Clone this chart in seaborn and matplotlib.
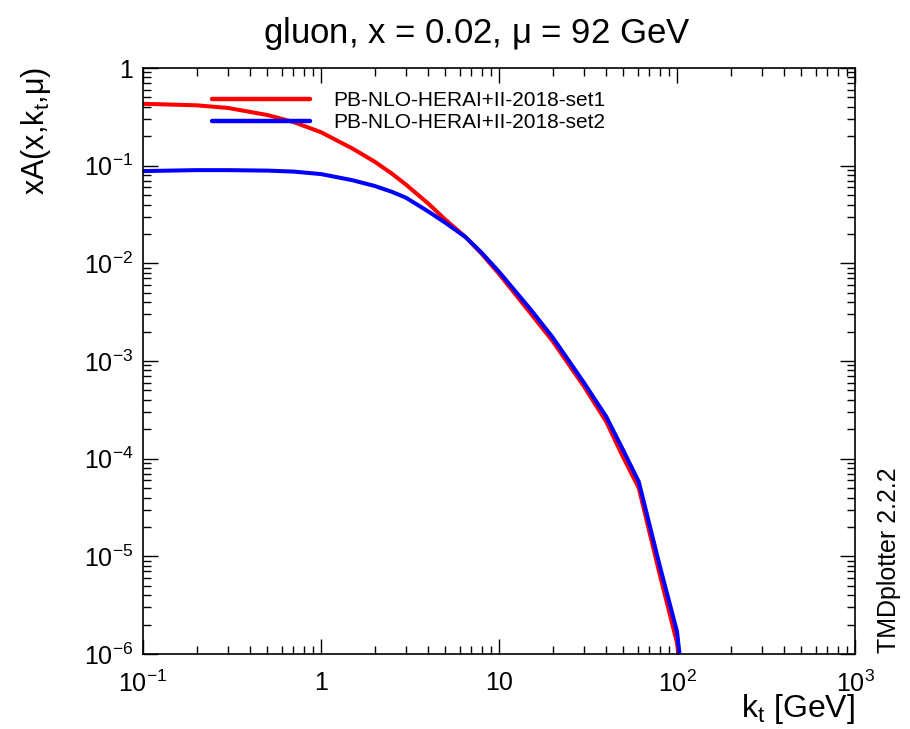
import numpy as np
import pandas as pd
import matplotlib
matplotlib.use("Agg")
import matplotlib.pyplot as plt
import seaborn as sns

kt = [0.1, 0.2, 0.3, 0.5, 0.7, 1.0, 1.5, 2.0, 2.5, 3.0, 4.0, 5.0, 6.5, 8.0,
      10, 15, 20, 30, 40, 49, 61, 80, 100, 104]
set1 = [0.43, 0.415, 0.39, 0.33, 0.28, 0.22, 0.15, 0.11, 0.083, 0.064, 0.041,
        0.028, 0.0185, 0.0125, 0.0078, 0.0031, 0.0016, 0.00055, 0.00024,
        0.00011, 5.0e-5, 6.5e-6, 1.3e-6, 7e-7]
set2 = [0.088, 0.090, 0.090, 0.089, 0.087, 0.082, 0.071, 0.062, 0.054, 0.047,
        0.034, 0.026, 0.0185, 0.0128, 0.0082, 0.0034, 0.00175, 0.0006,
        0.00027, 0.00013, 5.8e-5, 8.0e-6, 1.7e-6, 9e-7]
labels = ["PB-NLO-HERAI+II-2018-set1", "PB-NLO-HERAI+II-2018-set2"]
colors = ["#ff0000", "#0000ff"]
xtick_vals = [0.1, 1, 10, 100, 1000]
xtick_labels = [r"$10^{-1}$", "1", "10", r"$10^{2}$", r"$10^{3}$"]
ytick_vals = [1e-6, 1e-5, 1e-4, 1e-3, 1e-2, 1e-1, 1]
ytick_labels = [r"$10^{-6}$", r"$10^{-5}$", r"$10^{-4}$", r"$10^{-3}$",
                r"$10^{-2}$", r"$10^{-1}$", "1"]

df = pd.concat([
    pd.DataFrame({"kt": kt, "val": set1, "set": labels[0]}),
    pd.DataFrame({"kt": kt, "val": set2, "set": labels[1]}),
])

sns.set_theme(style="ticks")
plt.rcParams["font.family"] = ["Liberation Sans", "DejaVu Sans"]
plt.rcParams["mathtext.fontset"] = "custom"
plt.rcParams["mathtext.rm"] = "Liberation Sans"
plt.rcParams["mathtext.it"] = "Liberation Sans"
plt.rcParams["mathtext.default"] = "regular"
plt.rcParams["text.color"] = "black"
plt.rcParams["axes.labelcolor"] = "black"
plt.rcParams["xtick.color"] = "black"
plt.rcParams["ytick.color"] = "black"

fig = plt.figure(figsize=(9.1, 7.29), dpi=100)
ax = fig.add_axes([143 / 910, 1 - 654 / 729, (855 - 143) / 910, (654 - 68) / 729])

sns.lineplot(data=df, x="kt", y="val", hue="set", palette=colors,
             linewidth=2.9, ax=ax, sort=False, estimator=None)

ax.set_xscale("log")
ax.set_yscale("log")
ax.set_xlim(0.1, 1000)
ax.set_ylim(1e-6, 1)
ax.set_xticks(xtick_vals)
ax.set_xticklabels(xtick_labels)
ax.set_yticks(ytick_vals)
ax.set_yticklabels(ytick_labels)
ax.xaxis.set_minor_locator(matplotlib.ticker.LogLocator(base=10, subs=np.arange(2, 10)))
ax.yaxis.set_minor_locator(matplotlib.ticker.LogLocator(base=10, subs=np.arange(2, 10)))
ax.xaxis.set_minor_formatter(matplotlib.ticker.NullFormatter())
ax.yaxis.set_minor_formatter(matplotlib.ticker.NullFormatter())
ax.tick_params(which="both", direction="in", top=True, right=True, color="black",
               width=1.0, labelcolor="black")
ax.tick_params(which="major", length=11, labelsize=18)
ax.tick_params(axis="x", which="major", pad=12)
ax.tick_params(axis="y", which="major", pad=7)
ax.tick_params(which="minor", length=5.8)
for s in ax.spines.values():
    s.set_color("black")
    s.set_linewidth(1.2)

ax.set_xlabel("")
ax.set_ylabel("")
fig.text(855 / 910, 1 - 709 / 729, r"k$_{t}$ [GeV]", ha="right", va="center", fontsize=23)
fig.text(36 / 910, 1 - 67 / 729, r"xA(x,k$_{t}$,$\mu$)", ha="center", va="top",
         rotation=90, fontsize=22)
fig.text(477 / 910, 1 - 33 / 729, r"gluon, x = 0.02, $\mu$ = 92 GeV", ha="center",
         va="center", fontsize=25)
fig.text(889 / 910, 1 - 560 / 729, "TMDplotter 2.2.2", ha="center", va="center",
         rotation=90, fontsize=18)

leg = ax.legend(frameon=False, loc="upper left", bbox_to_anchor=(212 / 910, 1 - 91 / 729),
                bbox_transform=fig.transFigure, fontsize=15, handlelength=4.7,
                handletextpad=1.1, labelspacing=0.15, borderpad=0, borderaxespad=0,
                handleheight=0.7)
for line in leg.get_lines():
    line.set_linewidth(3.2)

fig.savefig("out.png", dpi=100, facecolor="white")
